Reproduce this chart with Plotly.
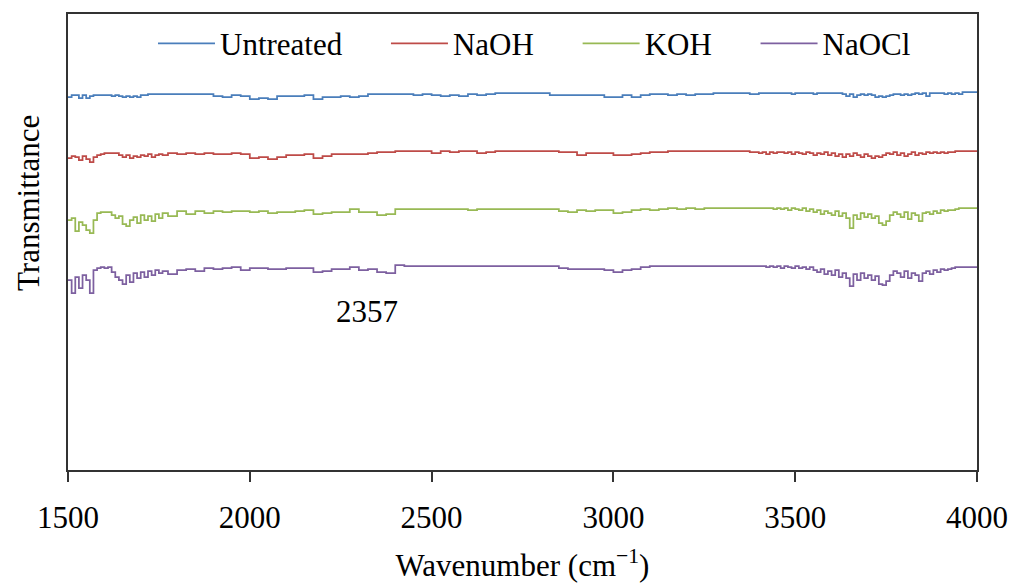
import plotly.graph_objects as go

# Wavenumber sampling grid (cm^-1)
wn_a = list(range(1500, 1761, 10))     # 27 pts
wn_b = list(range(1775, 3401, 25))     # 66 pts
wn_c = list(range(3410, 3961, 10))     # 56 pts
wn_d = [3975, 4000]
wavenumber = wn_a + wn_b + wn_c + wn_d

# Transmittance (arbitrary, offset units)
untreated = [
    373, 375, 375, 372, 375, 372, 374, 375, 375, 375,
    375, 375, 374, 375, 374, 373, 374, 373, 374, 373,
    375, 375, 376, 376, 376, 376, 376,
    376, 376, 376, 376, 376, 374, 373, 375, 374, 371,
    372, 371, 374, 374, 374, 375, 371, 373, 373, 374,
    373, 374, 376, 376, 376, 376, 376, 375, 376, 375,
    374, 375, 374, 376, 375, 376, 377, 377, 377, 377,
    377, 377, 375, 375, 375, 375, 375, 375, 373, 373,
    375, 373, 375, 376, 376, 375, 376, 375, 376, 376,
    377, 377, 377, 377, 376, 377,
    377, 377, 377, 377, 377, 377, 377, 377, 376, 377,
    377, 377, 377, 377, 376, 377, 377, 377, 377, 377,
    377, 377, 376, 374, 376, 373, 375, 376, 375, 376,
    375, 373, 374, 373, 374, 375, 376, 376, 375, 376,
    375, 376, 377, 376, 377, 374, 377, 377, 377, 377,
    376, 377, 376, 377, 376, 378,
    378, 378,
]
naoh = [
    312, 314, 313, 310, 314, 311, 308, 313, 315, 316,
    317, 317, 317, 317, 315, 313, 315, 312, 314, 313,
    315, 314, 316, 313, 315, 316, 315,
    317, 316, 317, 316, 317, 316, 316, 317, 316, 312,
    313, 311, 313, 315, 315, 316, 312, 314, 316, 316,
    316, 316, 317, 318, 318, 319, 319, 319, 319, 317,
    319, 318, 319, 319, 317, 318, 319, 319, 319, 319,
    319, 319, 319, 318, 318, 315, 317, 317, 317, 315,
    315, 316, 317, 318, 318, 319, 319, 319, 319, 319,
    319, 319, 319, 319, 318, 317,
    318, 316, 318, 317, 318, 318, 317, 318, 316, 318,
    317, 316, 318, 317, 315, 317, 316, 318, 315, 317,
    314, 316, 313, 316, 314, 317, 315, 313, 316, 314,
    312, 314, 313, 315, 317, 316, 318, 315, 317, 314,
    316, 318, 315, 317, 316, 318, 317, 318, 317, 318,
    317, 318, 318, 319, 319, 319,
    319, 319,
]
koh = [
    250, 252, 239, 248, 245, 240, 237, 250, 257, 258,
    258, 258, 255, 252, 254, 246, 244, 250, 253, 247,
    255, 250, 254, 249, 256, 252, 257,
    254, 259, 256, 259, 257, 259, 258, 259, 259, 258,
    259, 257, 258, 258, 259, 260, 256, 257, 258, 258,
    261, 258, 258, 255, 256, 261, 261, 261, 261, 261,
    261, 261, 261, 260, 261, 261, 261, 261, 261, 261,
    261, 261, 261, 259, 258, 260, 259, 260, 260, 257,
    258, 260, 261, 260, 261, 262, 261, 262, 261, 262,
    262, 262, 262, 262, 262, 262,
    262, 262, 262, 261, 262, 261, 262, 260, 262, 261,
    260, 262, 259, 261, 258, 260, 256, 259, 257, 255,
    259, 254, 257, 252, 242, 255, 251, 257, 253, 256,
    252, 254, 247, 245, 249, 255, 258, 256, 253, 258,
    251, 257, 255, 249, 257, 258, 256, 259, 257, 260,
    259, 260, 260, 261, 262, 262,
    262, 262,
]
naocl = [
    190, 177, 193, 182, 195, 190, 177, 200, 202, 203,
    202, 203, 198, 193, 190, 186, 195, 188, 197, 192,
    198, 193, 199, 195, 200, 197, 199,
    196, 200, 201, 199, 202, 201, 202, 203, 200, 202,
    202, 201, 201, 202, 202, 202, 198, 199, 201, 201,
    203, 200, 201, 198, 197, 205, 204, 204, 204, 204,
    204, 204, 204, 204, 204, 204, 204, 204, 204, 204,
    204, 204, 204, 202, 201, 201, 201, 201, 200, 198,
    200, 201, 203, 204, 204, 204, 204, 204, 204, 204,
    204, 204, 204, 204, 204, 204,
    204, 203, 204, 203, 204, 202, 204, 203, 202, 204,
    202, 203, 201, 203, 200, 198, 201, 196, 199, 195,
    200, 193, 197, 192, 184, 196, 190, 197, 192, 195,
    190, 194, 186, 185, 189, 195, 199, 197, 193, 199,
    192, 197, 195, 189, 197, 199, 196, 200, 198, 201,
    200, 201, 202, 203, 203, 203,
    203, 203,
]

series_names = ["Untreated", "NaOH", "KOH", "NaOCl"]
series_values = [untreated, naoh, koh, naocl]
series_colors = ["#4A7EBB", "#BE4B48", "#98B954", "#7D60A0"]

x_ticks = [1500, 2000, 2500, 3000, 3500, 4000]
peak_label = "2357"
peak_pos = (2322, 159)

FONT = '"Liberation Serif", "Times New Roman", Times, serif'
PAD = "\u00a0" * 5

fig = go.Figure()
for i, (name, vals, col) in enumerate(zip(series_names, series_values, series_colors)):
    label = name + (PAD if i < len(series_names) - 1 else "")
    fig.add_trace(go.Scatter(
        x=wavenumber, y=vals, name=label, mode="lines",
        line=dict(color=col, width=1.75, shape="hv"),
    ))

fig.add_annotation(x=peak_pos[0], y=peak_pos[1], text=peak_label,
                   showarrow=False, font=dict(size=31, family=FONT, color="#000"))
fig.add_annotation(xref="paper", yref="paper", x=-0.044, y=0.5855,
                   xanchor="center", yanchor="middle",
                   text="Transmittance", textangle=-90, showarrow=False,
                   font=dict(size=31, family=FONT, color="#000"))

fig.update_layout(
    width=1011, height=583,
    margin=dict(l=68, r=34, t=14, b=113, autoexpand=False),
    paper_bgcolor="white", plot_bgcolor="white",
    font=dict(family=FONT, size=31, color="#000"),
    showlegend=True,
    legend=dict(orientation="h", x=0.0935, y=0.994, xanchor="left", yanchor="top",
                itemwidth=57,
                bgcolor="rgba(0,0,0,0)", font=dict(size=31, family=FONT)),
    xaxis=dict(range=[1500, 4000], tickvals=x_ticks, ticks="outside", ticklen=10,
               tickcolor="#333", tickwidth=1.5, showline=True, mirror=True,
               linecolor="#333", linewidth=1.5, showgrid=False, zeroline=False,
               ticklabelstandoff=9, automargin=True,
               tickfont=dict(size=31, family=FONT),
               title=dict(text="Wavenumber (cm<sup>−1</sup>)", standoff=28,
                          font=dict(size=31, family=FONT))),
    yaxis=dict(range=[0, 456], showticklabels=False, ticks="", showline=True,
               mirror=True, linecolor="#333", linewidth=1.5, showgrid=False,
               zeroline=False, automargin=False),
)

fig.write_html("out.html")
